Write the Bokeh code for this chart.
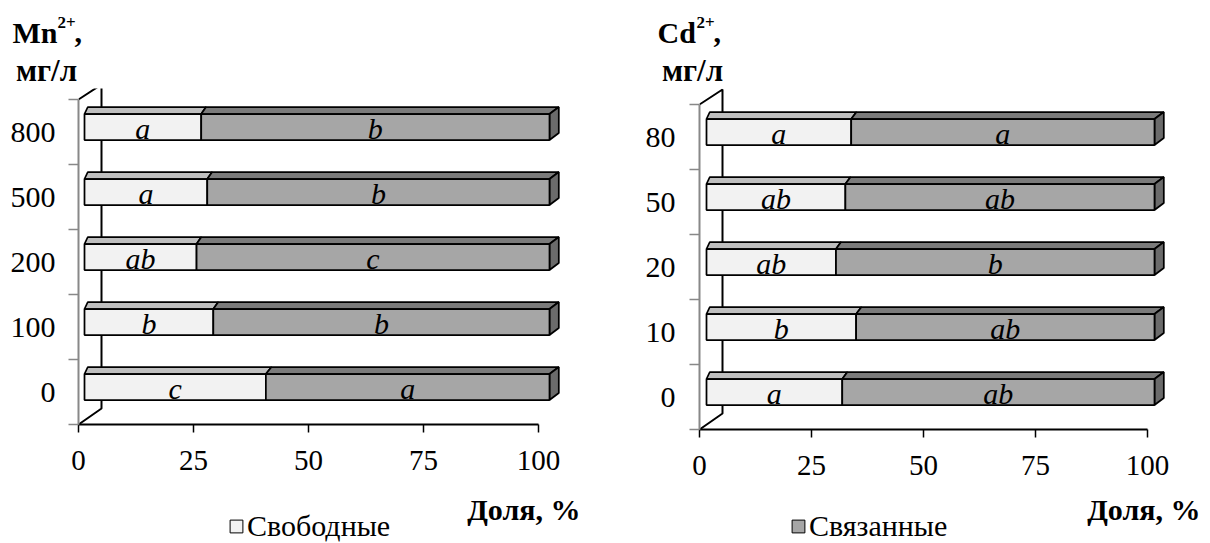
from bokeh.plotting import figure
from bokeh.layouts import row, column
from bokeh.models import FixedTicker, Legend, LegendItem, Range1d
from bokeh.embed import file_html
from bokeh.resources import INLINE
from bokeh.core.properties import value

FONT = "Liberation Serif"

# ---------------- data ----------------
mn_levels = ["0", "100", "200", "500", "800"]
mn_free = [39.0, 27.7, 24.1, 26.4, 25.1]
mn_free_letters = ["c", "b", "ab", "a", "a"]
mn_bound_letters = ["a", "b", "c", "b", "b"]

cd_levels = ["0", "10", "20", "50", "80"]
cd_free = [30.3, 33.4, 28.9, 31.0, 32.3]
cd_free_letters = ["a", "b", "ab", "ab", "a"]
cd_bound_letters = ["ab", "ab", "b", "ab", "a"]

x_ticks = [0, 25, 50, 75, 100]
TOTAL = 100

# ---------------- style ----------------
FREE_FRONT = "#f2f2f2"
FREE_TOP = "#bfbfbf"
BOUND_FRONT = "#a6a6a6"
BOUND_TOP = "#7b7b7b"
BOUND_SIDE = "#6b6b6b"
AXIS_GREY = "#888888"
MID = 0.3375  # baseline -> "middle" shift, in font sizes
EDGE = 1.75


def blank_fig(w, h):
    q = figure(width=w, height=h, x_range=Range1d(0, w), y_range=Range1d(h, 0),
               toolbar_location=None, output_backend="svg",
               x_axis_location=None, y_axis_location=None,
               min_border_left=0, min_border_right=0, min_border_top=0, min_border_bottom=0)
    q.outline_line_color = None
    q.grid.visible = False
    return q


def title_fig(w, h, ion, ion_x, sup_x, comma_x, unit_x):
    t = blank_fig(w, h)
    bold = dict(text_font=value(FONT), text_font_style="bold", text_color="black",
                text_baseline="middle", text_align="left")
    t.text(x=[ion_x], y=[42 - MID * 30], text=[ion], text_font_size="30px", **bold)
    t.text(x=[sup_x], y=[28 - MID * 17], text=["2+"], text_font_size="17px", **bold)
    t.text(x=[comma_x], y=[42 - MID * 30], text=[","], text_font_size="30px", **bold)
    bold["text_align"] = "center"
    t.text(x=[unit_x], y=[80 - MID * 31], text=["мг/л"], text_font_size="31px", **bold)
    return t


def bottom_fig(w, h, xlab_right, leg_label, leg_fill, leg_x):
    q = blank_fig(w, h)
    q.text(x=[xlab_right], y=[27 - MID * 30], text=["Доля, %"], text_font=value(FONT),
           text_font_style="bold", text_font_size="30px", text_align="right",
           text_baseline="middle", text_color="black")
    # legend proxy renderer (hidden; only its swatch is shown by the legend)
    r = q.quad(left=[0], right=[1], top=[0], bottom=[1], fill_color=leg_fill,
               line_color="black", line_width=1)
    r.visible = False
    leg = Legend(items=[LegendItem(label=leg_label, renderers=[r])], location=(leg_x, 0))
    leg.label_text_font = FONT
    leg.label_text_font_size = "30px"
    leg.label_text_color = "black"
    leg.glyph_width = 16
    leg.glyph_height = 16
    leg.label_standoff = 3
    leg.padding = 0
    leg.margin = 0
    leg.spacing = 0
    leg.border_line_color = None
    leg.background_fill_alpha = 0
    leg.inactive_fill_alpha = 0
    q.add_layout(leg)
    return q


def make_chart(levels, free, free_letters, bound_letters, sx, frame_w, frame_h,
               y_top_px, b_left, b_right, b_bottom, front_off, front_end,
               label_standoff):
    sy = 65.0
    y0 = 0.5
    n = len(levels)
    p = figure(frame_width=frame_w, frame_height=frame_h,
               x_range=Range1d(0, frame_w / sx),
               y_range=Range1d(y0, y0 + n + y_top_px / sy),
               toolbar_location=None, output_backend="svg",
               min_border_left=b_left, min_border_right=b_right,
               min_border_top=0, min_border_bottom=b_bottom)
    p.outline_line_color = None
    p.xgrid.visible = False
    p.ygrid.visible = False

    def f(v):
        return (front_off + v * (front_end - front_off) / TOTAL) / sx

    def ddx(v):
        return (3.3 + 6.0 * v / TOTAL) / sx

    ddy = 7.0 / sy

    # back wall / floor edges
    wdx = 23.0 / sx
    p.line([0, wdx, wdx, 0], [y0, y0 + 16.0 / sy, y0 + n + 15.0 / sy, y0 + n],
           line_color="black", line_width=2)

    centers = [i + 1 for i in range(n)]
    yb = [c + (5 - 13) / sy for c in centers]
    yt = [c + (5 + 13) / sy for c in centers]

    free_top_xs, free_top_ys, bound_top_xs, bound_top_ys = [], [], [], []
    side_xs, side_ys = [], []
    for i in range(n):
        v = free[i]
        free_top_xs.append([f(0), f(v), f(v) + ddx(v), f(0) + ddx(0)])
        free_top_ys.append([yt[i], yt[i], yt[i] + ddy, yt[i] + ddy])
        bound_top_xs.append([f(v), f(TOTAL), f(TOTAL) + ddx(TOTAL), f(v) + ddx(v)])
        bound_top_ys.append([yt[i], yt[i], yt[i] + ddy, yt[i] + ddy])
        side_xs.append([f(TOTAL), f(TOTAL) + ddx(TOTAL), f(TOTAL) + ddx(TOTAL), f(TOTAL)])
        side_ys.append([yb[i], yb[i] + ddy, yt[i] + ddy, yt[i]])

    p.patches(free_top_xs, free_top_ys, fill_color=FREE_TOP, line_color="black", line_width=EDGE)
    p.patches(bound_top_xs, bound_top_ys, fill_color=BOUND_TOP, line_color="black", line_width=EDGE)
    p.patches(side_xs, side_ys, fill_color=BOUND_SIDE, line_color="black", line_width=EDGE)

    p.quad(left=[f(0)] * n, right=[f(v) for v in free], bottom=yb, top=yt,
           fill_color=FREE_FRONT, line_color="black", line_width=EDGE)
    p.quad(left=[f(v) for v in free], right=[f(TOTAL)] * n, bottom=yb, top=yt,
           fill_color=BOUND_FRONT, line_color="black", line_width=EDGE)

    ty = [b + 12.0 / sy for b in yb]
    style = dict(text_font=value(FONT), text_font_style="italic", text_font_size="30px",
                 text_align="center", text_baseline="middle", text_color="black")
    p.text(x=[(f(0) + f(v)) / 2 for v in free], y=ty, text=free_letters, **style)
    p.text(x=[(f(v) + f(TOTAL)) / 2 for v in free], y=ty, text=bound_letters, **style)

    ya = p.yaxis[0]
    ya.ticker = FixedTicker(ticks=centers, minor_ticks=[y0 + k for k in range(n + 1)])
    ya.major_label_overrides = {c: lvl for c, lvl in zip(centers, levels)}
    ya.bounds = (y0, y0 + n)
    ya.axis_line_color = AXIS_GREY
    ya.axis_line_width = 2
    ya.major_tick_line_color = None
    ya.major_tick_out = 0
    ya.major_tick_in = 0
    ya.minor_tick_line_color = AXIS_GREY
    ya.minor_tick_line_width = 1.5
    ya.minor_tick_out = 10
    ya.minor_tick_in = 0
    ya.major_label_standoff = label_standoff
    ya.major_label_text_font = FONT
    ya.major_label_text_font_size = "30px"
    ya.major_label_text_color = "black"

    xa = p.xaxis[0]
    xa.ticker = FixedTicker(ticks=x_ticks)
    xa.bounds = (0, TOTAL)
    xa.axis_line_color = "black"
    xa.axis_line_width = 2
    xa.major_tick_line_color = "black"
    xa.major_tick_line_width = 1.5
    xa.major_tick_out = 8
    xa.major_tick_in = 0
    xa.minor_tick_line_color = None
    xa.major_label_standoff = 18
    xa.major_label_text_font = FONT
    xa.major_label_text_font_size = "29px"
    xa.major_label_text_color = "black"
    return p


W1, W2 = 610, 600
H_TOP, H_MID, H_BOT = 88, 404, 51

p1 = make_chart(mn_levels, mn_free, mn_free_letters, mn_bound_letters, sx=4.6,
                frame_w=500, frame_h=336, y_top_px=11, b_left=78, b_right=32,
                b_bottom=68, front_off=6, front_end=471, label_standoff=13)
p2 = make_chart(cd_levels, cd_free, cd_free_letters, cd_bound_letters, sx=4.48,
                frame_w=480, frame_h=341, y_top_px=16, b_left=89, b_right=31,
                b_bottom=63, front_off=7, front_end=455, label_standoff=14)

t1 = title_fig(W1, H_TOP, "Mn", ion_x=12, sup_x=57, comma_x=74, unit_x=46)
t2 = title_fig(W2, H_TOP, "Cd", ion_x=47, sup_x=86, comma_x=103, unit_x=82)

q1 = bottom_fig(W1, H_BOT, xlab_right=580, leg_label="Свободные", leg_fill=FREE_FRONT, leg_x=228)
q2 = bottom_fig(W2, H_BOT, xlab_right=590, leg_label="Связанные", leg_fill=BOUND_FRONT, leg_x=180)

layout = column(row(t1, t2), row(p1, p2), row(q1, q2))
open("out.html", "w").write(file_html(layout, INLINE))
